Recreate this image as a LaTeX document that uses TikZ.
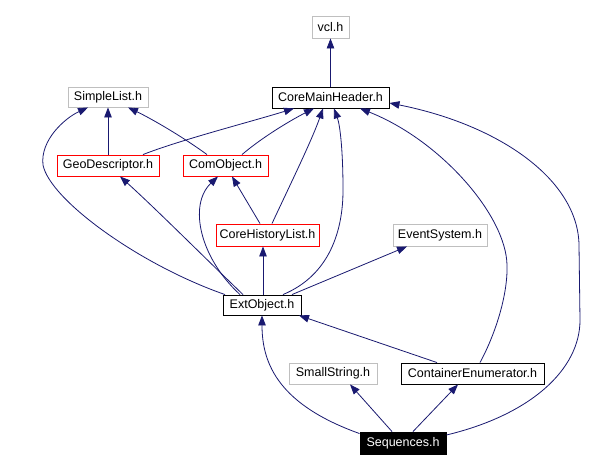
\documentclass[tikz,border=0pt]{standalone}
\usepackage{fontspec}
\setmainfont{Liberation Sans}
\usetikzlibrary{arrows.meta}
\definecolor{edgeblue}{HTML}{191970}
\definecolor{boxgray}{HTML}{BFBFBF}
\begin{document}
\begin{tikzpicture}[x=1pt,y=-1pt,
  hbox/.style={draw, rectangle, inner sep=0pt, line width=0.9pt, font=\fontsize{12.5}{14}\selectfont},
  graybox/.style={hbox, draw=boxgray},
  redbox/.style={hbox, draw=red},
  blackbox/.style={hbox, draw=black},
  rootbox/.style={hbox, draw=black, fill=black, text=white},
  dep/.style={draw=edgeblue, line width=0.8pt, -{Triangle[length=10pt,width=7.5pt]}, fill=none},
]
\useasboundingbox (0,0) rectangle (599,471);
\fill[white] (0,0) rectangle (599,471);

\node[graybox, minimum width=37pt, minimum height=22pt] (vcl) at (330.5,27) {vcl.h};
\node[blackbox, minimum width=117pt, minimum height=21pt] (cmh) at (330.5,97.5) {CoreMainHeader.h};
\node[graybox, minimum width=80pt, minimum height=20pt] (sl) at (108,97) {SimpleList.h};
\node[redbox, minimum width=102pt, minimum height=21pt] (geo) at (108,165.5) {GeoDescriptor.h};
\node[redbox, minimum width=85pt, minimum height=21pt] (com) at (225.5,165.5) {ComObject.h};
\node[redbox, minimum width=103pt, minimum height=22pt] (chl) at (267.5,235) {CoreHistoryList.h};
\node[graybox, minimum width=94pt, minimum height=22pt] (evs) at (440,235) {EventSystem.h};
\node[blackbox, minimum width=78pt, minimum height=20pt] (ext) at (262,305) {ExtObject.h};
\node[graybox, minimum width=88pt, minimum height=21pt] (ss) at (333,373.5) {SmallString.h};
\node[blackbox, minimum width=143pt, minimum height=21pt] (ce) at (472.5,373.5) {ContainerEnumerator.h};
\node[rootbox, minimum width=86pt, minimum height=22pt] (seq) at (403,443) {Sequences.h};

% edges
\draw[dep] (cmh.north) -- (vcl.south);
\draw[dep] (geo.north) -- (sl.south);
\draw[dep] ([xshift=-18.5pt]com.north) .. controls (180,135) and (150,118) .. ([xshift=20pt]sl.south);
\draw[dep] ([xshift=35pt]geo.north) .. controls (180,140) and (250,122) .. ([xshift=-36.5pt]cmh.south);
\draw[dep] ([xshift=16.5pt]com.north) .. controls (265,135) and (295,118) .. ([xshift=-16.5pt]cmh.south);
\draw[dep] ([xshift=-7.5pt]chl.north) -- ([xshift=6.5pt]com.south);
\draw[dep] ([xshift=4.5pt]chl.north) .. controls (290,185) and (312,140) .. ([xshift=-7.5pt]cmh.south);
\draw[dep] ([xshift=1pt]ext.north) -- ([xshift=-4.5pt]chl.south);
\draw[dep] ([xshift=-22pt]ext.north) .. controls (200,258) and (188,205) .. ([xshift=-7.5pt]com.south);
\draw[dep] ([xshift=-19pt]ext.north) .. controls (205,258) and (155,208) .. ([xshift=12pt]geo.south);
\draw[dep] ([xshift=-37pt]ext.north) .. controls (140,265) and (50,200) .. (43,165) .. controls (40,140) and (65,118) .. ([xshift=-20pt]sl.south);
\draw[dep] ([xshift=21pt]ext.north) .. controls (330,275) and (343,230) .. (343,190) .. controls (343,150) and (340,125) .. ([xshift=3.5pt]cmh.south);
\draw[dep] ([xshift=30pt]ext.north) -- ([xshift=-33pt]evs.south);
\draw[dep] ([xshift=-35.5pt]ce.north) -- ([xshift=37pt]ext.south);
\draw[dep] ([xshift=7.5pt]ce.north) .. controls (495,335) and (508,295) .. (507,265) .. controls (506,215) and (440,140) .. ([xshift=29.5pt]cmh.south);
\draw[dep] ([yshift=8pt]seq.east) .. controls (530,415) and (580,370) .. (580,320) -- (579,245) .. controls (578,180) and (500,125) .. ([yshift=-5.5pt]cmh.east);
\draw[dep] ([yshift=-2pt]seq.north west) .. controls (280,405) and (262,365) .. (ext.south);
\draw[dep] ([xshift=-11pt]seq.north) -- ([xshift=17pt]ss.south);
\draw[dep] ([xshift=10pt]seq.north) -- ([xshift=-14.5pt]ce.south);
\end{tikzpicture}
\end{document}
